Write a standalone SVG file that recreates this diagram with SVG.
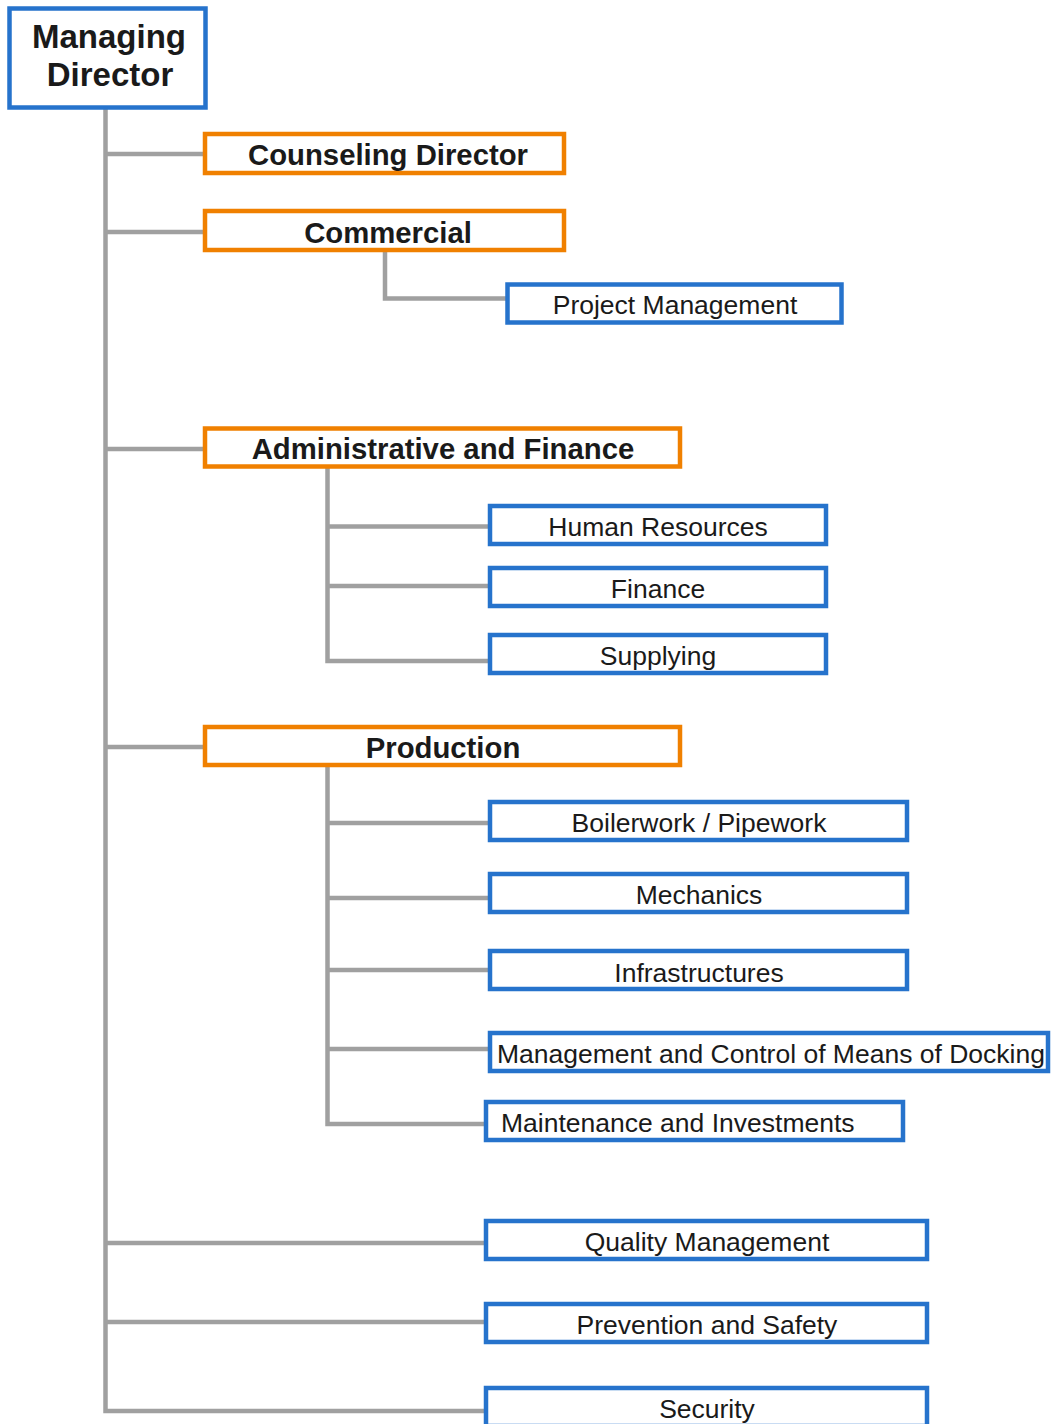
<svg xmlns="http://www.w3.org/2000/svg" width="1052" height="1424" viewBox="0 0 1052 1424">
<style>
.bg{fill:#ffffff}
.blue{fill:#ffffff;stroke:#2673CC;stroke-width:4.5}
.orange{fill:#ffffff;stroke:#F08000;stroke-width:4.5}
.conn{fill:none;stroke:#A0A0A0;stroke-width:4.5}
.tb{font-family:"Liberation Sans",Arial,sans-serif;font-weight:bold;font-size:29.3px;fill:#1a1a1a;text-anchor:middle}
.tr{font-family:"Liberation Sans",Arial,sans-serif;font-size:26.5px;fill:#1a1a1a;text-anchor:middle}
.tl{text-anchor:start}
.tm{font-family:"Liberation Sans",Arial,sans-serif;font-weight:bold;font-size:33px;fill:#1a1a1a;text-anchor:middle}
</style>
<rect class="bg" x="0" y="0" width="1052" height="1424"/>
<g id="connectors">
<path class="conn" d="M105.5 107 V1411 H486"/>
<path class="conn" d="M105.5 154 H205"/>
<path class="conn" d="M105.5 232 H205"/>
<path class="conn" d="M105.5 449 H205"/>
<path class="conn" d="M105.5 747 H205"/>
<path class="conn" d="M105.5 1243 H486"/>
<path class="conn" d="M105.5 1322 H486"/>
<path class="conn" d="M385 249 V298.5 H507.5"/>
<path class="conn" d="M327.5 466 V661 H490"/>
<path class="conn" d="M327.5 526.5 H490"/>
<path class="conn" d="M327.5 586 H490"/>
<path class="conn" d="M327.5 765 V1124 H486"/>
<path class="conn" d="M327.5 823 H490"/>
<path class="conn" d="M327.5 898 H490"/>
<path class="conn" d="M327.5 970 H490"/>
<path class="conn" d="M327.5 1049 H490"/>
</g>
<g id="managing-director">
<rect class="blue" x="9.5" y="8.5" width="196" height="99"/>
<text class="tm" x="109" y="48">Managing</text>
<text class="tm" x="110" y="86">Director</text>
</g>
<g id="counseling-director">
<rect class="orange" x="205" y="134" width="359" height="39"/>
<text class="tb" x="388" y="165">Counseling Director</text>
</g>
<g id="commercial">
<rect class="orange" x="205" y="211" width="359" height="39"/>
<text class="tb" x="388" y="242.5">Commercial</text>
</g>
<g id="project-management">
<rect class="blue" x="507.5" y="284.5" width="334" height="38"/>
<text class="tr" x="675" y="314">Project Management</text>
</g>
<g id="admin-finance">
<rect class="orange" x="205" y="428.5" width="475" height="38"/>
<text class="tb" x="443" y="459">Administrative and Finance</text>
</g>
<g id="human-resources">
<rect class="blue" x="490" y="506" width="336" height="38"/>
<text class="tr" x="658" y="535.5">Human Resources</text>
</g>
<g id="finance">
<rect class="blue" x="490" y="568" width="336" height="38"/>
<text class="tr" x="658" y="598">Finance</text>
</g>
<g id="supplying">
<rect class="blue" x="490" y="635" width="336" height="38"/>
<text class="tr" x="658" y="664.5">Supplying</text>
</g>
<g id="production">
<rect class="orange" x="205" y="727" width="475" height="38"/>
<text class="tb" x="443" y="757.5">Production</text>
</g>
<g id="boilerwork">
<rect class="blue" x="490" y="802" width="417" height="38"/>
<text class="tr" x="699" y="831.5">Boilerwork / Pipework</text>
</g>
<g id="mechanics">
<rect class="blue" x="490" y="874" width="417" height="38"/>
<text class="tr" x="699" y="904">Mechanics</text>
</g>
<g id="infrastructures">
<rect class="blue" x="490" y="951" width="417" height="38"/>
<text class="tr" x="699" y="981.5">Infrastructures</text>
</g>
<g id="docking">
<rect class="blue" x="490" y="1033" width="558" height="38"/>
<text class="tr tl" x="497" y="1063">Management and Control of Means of Docking</text>
</g>
<g id="maintenance">
<rect class="blue" x="486" y="1102" width="417" height="38"/>
<text class="tr tl" x="501" y="1132">Maintenance and Investments</text>
</g>
<g id="quality">
<rect class="blue" x="486" y="1221" width="441" height="38"/>
<text class="tr" x="707" y="1250.5">Quality Management</text>
</g>
<g id="prevention">
<rect class="blue" x="486" y="1304" width="441" height="38"/>
<text class="tr" x="707" y="1334">Prevention and Safety</text>
</g>
<g id="security">
<rect class="blue" x="486" y="1388" width="441" height="38"/>
<text class="tr" x="707" y="1418">Security</text>
</g>
</svg>
